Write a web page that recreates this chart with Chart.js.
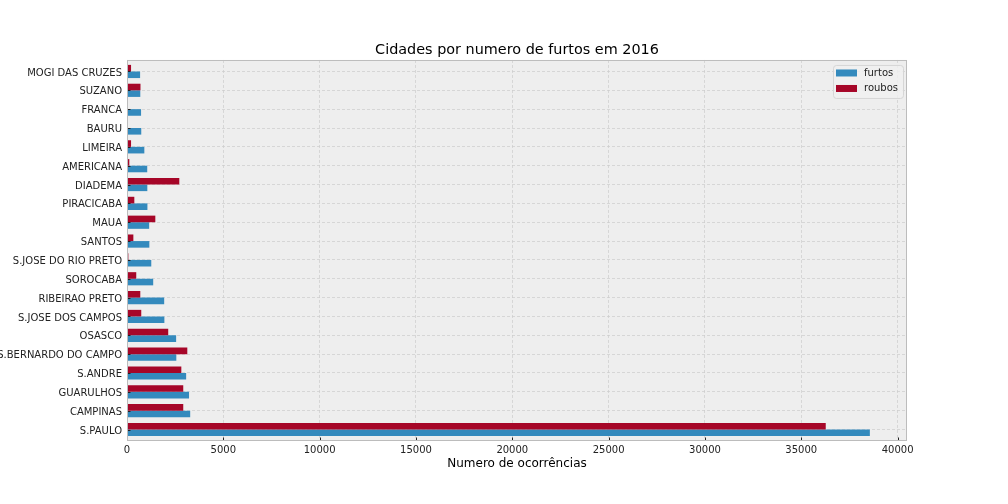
<!DOCTYPE html>
<html>
<head>
<meta charset="utf-8">
<title>Cidades por numero de furtos em 2016</title>
<script src="https://cdn.jsdelivr.net/npm/chart.js@4.4.1/dist/chart.umd.min.js"></script>
<style>
    html, body { margin: 0; padding: 0; background: #fff; }
    #wrap { width: 1008px; height: 504px; position: relative; }
</style>
</head>
<body>
<div id="wrap"><canvas id="crimeChart"></canvas></div>
<script>
// cities, top to bottom as they appear on the chart
const cities = [
    'MOGI DAS CRUZES', 'SUZANO', 'FRANCA', 'BAURU', 'LIMEIRA',
    'AMERICANA', 'DIADEMA', 'PIRACICABA', 'MAUA', 'SANTOS',
    'S.JOSE DO RIO PRETO', 'SOROCABA', 'RIBEIRAO PRETO', 'S.JOSE DOS CAMPOS', 'OSASCO',
    'S.BERNARDO DO CAMPO', 'S.ANDRE', 'GUARULHOS', 'CAMPINAS', 'S.PAULO'
];
const furtos = [680, 690, 730, 740, 900, 1050, 1055, 1060, 1150, 1160,
                1260, 1360, 1930, 1940, 2550, 2560, 3070, 3220, 3280, 38560];
const roubos = [210, 700, 20, 20, 210, 120, 2715, 380, 1470, 330,
                70, 480, 690, 740, 2140, 3130, 2820, 2920, 2920, 36270];
const xTicks = [0, 5000, 10000, 15000, 20000, 25000, 30000, 35000, 40000];

const BLUE = '#348ABD';
const RED = '#A60628';
const FONT = "'DejaVu Sans', sans-serif";
const GRID = '#cbcbcb';

// matplotlib-style autoscale: 5% margin past the longest bar
const xMax = Math.max(...furtos, ...roubos) * 1.05;
// a little extra room above the first and below the last city
const yPad = 0.61;

// grey plot background, frame, inward tick marks and the in-axes legend
const mplLook = {
    id: 'mplLook',
    beforeDraw(chart) {
        const { ctx, chartArea: a } = chart;
        ctx.save();
        ctx.fillStyle = '#eeeeee';
        ctx.fillRect(a.left, a.top, a.right - a.left, a.bottom - a.top);
        ctx.restore();
    },
    afterDatasetsDraw(chart) {
        const { ctx, chartArea: a, scales } = chart;
        ctx.save();
        ctx.strokeStyle = '#222';
        ctx.lineWidth = 1;
        ctx.beginPath();
        scales.y.ticks.forEach((t, i) => {
            const y = Math.round(scales.y.getPixelForTick(i)) + 0.5;
            ctx.moveTo(a.left, y);
            ctx.lineTo(a.left + 3.5, y);
        });
        scales.x.ticks.forEach((t, i) => {
            const x = Math.round(scales.x.getPixelForTick(i)) + 0.5;
            ctx.moveTo(x, a.bottom);
            ctx.lineTo(x, a.bottom - 3.5);
        });
        ctx.stroke();

        ctx.strokeStyle = '#bcbcbc';
        ctx.strokeRect(a.left + 0.5, a.top + 0.5, a.right - a.left - 1, a.bottom - a.top - 1);

        // legend (furtos first, as in the original)
        const bx = a.right - 74, by = a.top + 5, bw = 70, bh = 33;
        ctx.fillStyle = 'rgba(240,240,240,0.8)';
        ctx.strokeStyle = '#d6d6d6';
        ctx.beginPath();
        ctx.roundRect(bx + 0.5, by + 0.5, bw, bh, 3);
        ctx.fill();
        ctx.stroke();
        const items = [['furtos', BLUE], ['roubos', RED]];
        ctx.font = '10px ' + FONT;
        ctx.textBaseline = 'middle';
        items.forEach(([label, color], i) => {
            const cy = by + 8 + i * 15.5;
            ctx.fillStyle = color;
            ctx.fillRect(bx + 3, cy - 3.5, 21, 7);
            ctx.fillStyle = '#222';
            ctx.fillText(label, bx + 31, cy);
        });
        ctx.restore();
    }
};

document.addEventListener('DOMContentLoaded', function () {
    const ctx = document.getElementById('crimeChart').getContext('2d');

    new Chart(ctx, {
        type: 'bar',
        data: {
            datasets: [{
                label: 'roubos',
                data: roubos.map((v, i) => ({ x: v, y: i })),
                backgroundColor: RED,
                categoryPercentage: 0.7,
                barPercentage: 1.0
            }, {
                label: 'furtos',
                data: furtos.map((v, i) => ({ x: v, y: i })),
                backgroundColor: BLUE,
                categoryPercentage: 0.7,
                barPercentage: 1.0
            }]
        },
        options: {
            indexAxis: 'y',
            responsive: true,
            maintainAspectRatio: false,
            animation: false,
            layout: { padding: { left: 0, right: 101, top: 0, bottom: 0 } },
            plugins: {
                legend: { display: false },
                tooltip: { enabled: false },
                title: {
                    display: true,
                    text: 'Cidades por numero de furtos em 2016',
                    fullSize: false,
                    color: '#000',
                    font: { family: FONT, size: 14.4, weight: 'normal' },
                    padding: { top: 41.4, bottom: 1.3 }
                }
            },
            scales: {
                x: {
                    type: 'linear',
                    min: 0,
                    max: xMax,
                    afterBuildTicks(scale) { scale.ticks = xTicks.map(v => ({ value: v })); },
                    afterFit(scale) { scale.height = 63; },
                    grid: { color: GRID, lineWidth: 0.7, drawTicks: false },
                    border: { display: false, dash: [3, 2] },
                    ticks: {
                        padding: 3,
                        color: '#222',
                        font: { family: FONT, size: 10 },
                        callback: function (value) { return String(value); }
                    },
                    title: {
                        display: true,
                        text: 'Numero de ocorrências',
                        color: '#000',
                        font: { family: FONT, size: 12 },
                        padding: { top: 0, bottom: 32.5 }
                    }
                },
                y: {
                    type: 'linear',
                    reverse: true,
                    offset: false,
                    min: -yPad,
                    max: cities.length - 1 + yPad,
                    afterBuildTicks(scale) { scale.ticks = cities.map((c, i) => ({ value: i })); },
                    afterFit(scale) { scale.width = 127; },
                    grid: { offset: false, color: GRID, lineWidth: 0.7, drawTicks: false },
                    border: { display: false, dash: [3, 2] },
                    ticks: {
                        autoSkip: false,
                        padding: 5,
                        labelOffset: 1.5,
                        color: '#222',
                        font: { family: FONT, size: 10 },
                        callback: function (value) { return cities[value]; }
                    }
                }
            }
        },
        plugins: [mplLook]
    });
});
</script>
</body>
</html>
